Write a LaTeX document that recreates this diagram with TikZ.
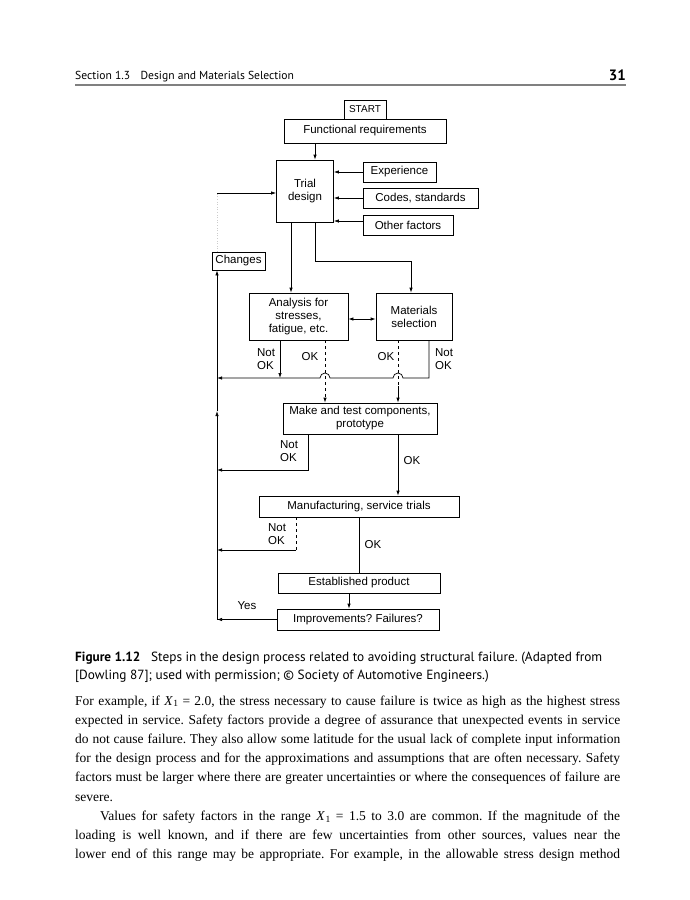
\documentclass[tikz,border=0pt]{standalone}
\usepackage{fontspec}
\setmainfont{Liberation Serif}
\newfontfamily\diag{Liberation Sans}
\newfontfamily\head{PT Sans}
\usetikzlibrary{arrows.meta,calc}
\frenchspacing
\newcommand{\Xone}{\textit{X}\kern0.5pt\raisebox{-0.3ex}{\fontsize{9.5}{10}\selectfont 1}}
\newcommand{\bodyline}[1]{\makebox[545pt][s]{#1}}
\begin{document}
\begin{tikzpicture}[x=1pt,y=-1pt,
  box/.style={draw, line width=0.7pt, inner sep=0pt, font=\diag\fontsize{11.5}{13}\selectfont, align=center},
  lbl/.style={inner sep=0pt, font=\diag\fontsize{11.5}{12.5}\selectfont, align=left},
  arr/.style={-{Latex[length=5pt,width=3.4pt]}, line width=0.7pt},
  dbl/.style={{Latex[length=5pt,width=3.4pt]}-{Latex[length=5pt,width=3.4pt]}, line width=0.7pt},
  ln/.style={line width=0.7pt},
  body/.style={anchor=base west, inner sep=0pt, font=\fontsize{13.5}{16}\selectfont},
  captext/.style={anchor=base west, inner sep=0pt, font=\head\fontsize{13.3}{15}\selectfont}]
\path[use as bounding box, fill=white] (0,0) rectangle (690,900);

% header
\node[anchor=base west, inner sep=0pt, font=\head\fontsize{11.6}{13}\selectfont] (sec) at (75,79) {Section 1.3\hspace{0.9em}Design and Materials Selection};
\node[anchor=base east, inner sep=0pt, font=\head\bfseries\fontsize{15}{17}\selectfont] (pg) at (626,80) {31};
\draw[gray, line width=1.2pt] (75,85) -- (626,85);

% boxes
\node[box, font=\diag\fontsize{10}{12}\selectfont, minimum width=42, minimum height=19] (start) at (365,109.5) {START};
\node[box, minimum width=162, minimum height=24] (func) at (365,131) {Functional requirements};
\node[box, minimum width=57, minimum height=62] (trial) at (305,191) {Trial\\design};
\node[box, minimum width=73, minimum height=20] (exp) at (399.5,172) {Experience};
\node[box, minimum width=115, minimum height=20] (codes) at (420.5,198) {Codes, standards};
\node[box, minimum width=90, minimum height=20] (other) at (408,225) {Other factors};
\node[box, minimum width=53, minimum height=18] (changes) at (238.5,261) {Changes};
\node[box, minimum width=99, minimum height=47] (anal) at (298.5,316.5) {Analysis for\\stresses,\\fatigue, etc.};
\node[box, minimum width=76, minimum height=47] (mat) at (414,316.5) {Materials\\selection};
\node[box, minimum width=154, minimum height=31] (make) at (360,418.5) {Make and test components,\\prototype};
\node[box, minimum width=200, minimum height=21] (manu) at (359,506.5) {Manufacturing, service trials};
\node[box, minimum width=162, minimum height=20] (est) at (359,583) {Established product};
\node[box, minimum width=162, minimum height=21] (impr) at (358,619.5) {Improvements? Failures?};

% coordinates
\coordinate (inL) at (217,193);
\coordinate (xA) at (291,0);
\coordinate (jn) at (315,261);
\coordinate (jm) at (411,261);
\coordinate (dy) at (0,319);
\coordinate (nA) at (280,378);
\coordinate (nM) at (429,378);
\coordinate (hop1) at (398,378);
\coordinate (hop2) at (325,378);
\coordinate (hL) at (217,378);
\coordinate (nK) at (308,470);
\coordinate (nN) at (296,550);
\coordinate (xO) at (359,0);
\coordinate (xE) at (349,0);
\coordinate (mid) at (217,411);

% connectors top
\draw[arr] (func.south -| jn) -- (trial.north -| jn);
\draw[arr] (exp.west) -- (exp.west -| trial.east);
\draw[arr] (codes.west) -- (codes.west -| trial.east);
\draw[arr] ([yshift=4pt]other.west) -- ([yshift=4pt]other.west -| trial.east);
\draw[arr] (inL) -- (inL -| trial.west);
\draw[dotted, gray!40, line width=0.6pt] (changes.north -| inL) -- (inL);
\draw[arr] (trial.south -| xA) -- (anal.north -| xA);
\draw[arr] (trial.south -| jn) -- (jn) -- (jm) -- (mat.north -| jm);
\draw[dbl] (anal.east |- dy) -- (mat.west |- dy);

% analysis / materials outputs
\draw[arr] (anal.south -| nA) -- (nA);
\draw[arr] (mat.south -| nM) -- (nM) -- ([xshift=5pt]hop1) arc[start angle=0,end angle=180,radius=5pt]
  -- ([xshift=5pt]hop2) arc[start angle=0,end angle=180,radius=5pt] -- (hL);
\draw[arr, dashed] (anal.south -| hop2) -- (make.north -| hop2);
\draw[ln, dashed] (mat.south -| hop1) -- ([yshift=-8pt]hop1);
\draw[arr] ([yshift=-8pt]hop1) -- (make.north -| hop1);

% make / manufacturing
\draw[arr] (make.south -| nK) -- (nK) -- (nK -| hL);
\draw[arr] (make.south -| hop1) -- (manu.north -| hop1);
\draw[ln, dashed] (manu.south -| nN) -- (nN);
\draw[arr] (nN) -- (nN -| hL);
\draw[ln] (manu.south -| xO) -- (est.north -| xO);
\draw[arr] (est.south -| xE) -- (impr.north -| xE);
\draw[arr] (impr.west) -- (impr.west -| hL);
\draw[arr] (impr.west -| hL) -- (mid);
\draw[arr] (mid) -- (changes.south -| hL);

% labels
\node[lbl] (l1) at (266,359) {Not\\OK};
\node[lbl] (l2) at (310,357) {OK};
\node[lbl] (l3) at (386,357) {OK};
\node[lbl] (l4) at (444,359) {Not\\OK};
\node[lbl] (l5) at (289,451) {Not\\OK};
\node[lbl] (l6) at (412,461) {OK};
\node[lbl] (l7) at (277,534) {Not\\OK};
\node[lbl] (l8) at (373,545) {OK};
\node[lbl] (l9) at (247,606) {Yes};

% caption
\node[captext] (cap1) at (75,661) {\textbf{Figure 1.12}\hspace{0.8em}Steps in the design process related to avoiding structural failure. (Adapted from};
\node[captext] (cap2) at (75,679) {[Dowling 87]; used with permission; \textcopyright\ Society of Automotive Engineers.)};

% body text
\node[body] (b1) at (75,705) {\bodyline{For example, if \Xone\ = 2.0, the stress necessary to cause failure is twice as high as the highest stress}};
\node[body] (b2) at (75,724.2) {\bodyline{expected in service. Safety factors provide a degree of assurance that unexpected events in service}};
\node[body] (b3) at (75,743.4) {\bodyline{do not cause failure. They also allow some latitude for the usual lack of complete input information}};
\node[body] (b4) at (75,762.6) {\bodyline{for the design process and for the approximations and assumptions that are often necessary. Safety}};
\node[body] (b5) at (75,781.8) {\bodyline{factors must be larger where there are greater uncertainties or where the consequences of failure are}};
\node[body] (b6) at (75,801) {severe.};
\node[body] (b7) at (100,820.2) {\makebox[520pt][s]{Values for safety factors in the range \Xone\ = 1.5 to 3.0 are common. If the magnitude of the}};
\node[body] (b8) at (75,839.4) {\bodyline{loading is well known, and if there are few uncertainties from other sources, values near the}};
\node[body] (b9) at (75,858.6) {\bodyline{lower end of this range may be appropriate. For example, in the allowable stress design method}};
\end{tikzpicture}
\end{document}
